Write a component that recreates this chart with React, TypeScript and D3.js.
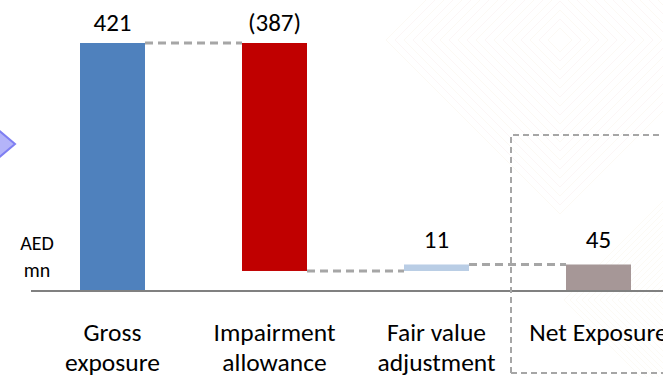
import React from "react";
import * as d3 from "d3";

const categories = ["Gross exposure", "Impairment allowance", "Fair value adjustment", "Net Exposure"];
const categoryLines = [["Gross", "exposure"], ["Impairment", "allowance"], ["Fair value", "adjustment"], ["Net Exposure"]];
const deltas = [421, -387, 11, 45];
const valueLabels = ["421", "(387)", "11", "45"];
const kinds = ["total", "step", "step", "total"];
const colors = ["#4f81bd", "#c00000", "#b9cde5", "#a69797"];

const W = 663;
const H = 377;
const baseY = 291;
const font = "Carlito, Calibri, 'Open Sans', 'Liberation Sans', sans-serif";

export default function App() {
  const x = d3.scaleBand<string>().domain(categories).range([31.5, 679.5]).paddingInner(0.6).paddingOuter(0.3);
  const bw = 65;
  const cx = (i: number) => (x(categories[i]) as number) + x.bandwidth() / 2;
  const y = d3.scaleLinear().domain([0, 421]).range([baseY, 43]);

  // running waterfall extents
  let run = 0;
  const bars = deltas.map((d, i) => {
    let lo: number, hi: number;
    if (kinds[i] === "total") {
      lo = 0;
      hi = d;
      run = d;
    } else {
      const next = run + d;
      lo = Math.min(run, next);
      hi = Math.max(run, next);
      run = next;
    }
    return { lo, hi, end: run, i };
  });

  const connectors = bars.slice(0, -1).map((b, i) => ({
    x1: cx(i) + bw / 2,
    x2: cx(i + 1) - bw / 2,
    yv: b.end,
  }));

  // faint concentric diamonds in the background
  const rings = d3.range(4, 60, 3);

  return (
    <svg width={W} height={H} style={{ position: "absolute", left: 0, top: 0, background: "#fff" }}>
      <g opacity={0.18}>
        {rings.map((r) => (
          <path
            key={"a" + r}
            d={`M${560 - r * 3},${40} L${560},${40 - r * 3} L${560 + r * 3},${40} L${560},${40 + r * 3} Z`}
            fill="none"
            stroke={r % 2 ? "#efcfcf" : "#f2e0c8"}
            strokeWidth={1}
          />
        ))}
        {rings.map((r) => (
          <path
            key={"b" + r}
            d={`M${680 - r * 2},${300} L${680},${300 - r * 2} L${680 + r * 2},${300} L${680},${300 + r * 2} Z`}
            fill="none"
            stroke="#f2e4cc"
            strokeWidth={1}
          />
        ))}
      </g>

      {/* pointer chevron on the left edge */}
      <path d="M-4,128 L15,144 L-4,160 Z" fill="#b4b4f9" stroke="#7f7ff2" strokeWidth={2} />

      {bars.map((b) => (
        <rect
          key={b.i}
          x={cx(b.i) - bw / 2}
          y={y(b.hi)}
          width={bw}
          height={y(b.lo) - y(b.hi)}
          fill={colors[b.i]}
        />
      ))}

      {connectors.map((c, i) => (
        <line
          key={i}
          x1={c.x1}
          x2={c.x2}
          y1={y(c.yv)}
          y2={y(c.yv)}
          stroke="#a6a6a6"
          strokeWidth={3}
          strokeDasharray="8,5"
        />
      ))}

      <line x1={31} x2={W} y1={baseY} y2={baseY} stroke="#808080" strokeWidth={2} />

      <path d={`M511,373 L511,135 L${W + 5},135`} fill="none" stroke="#a6a6a6" strokeWidth={2} strokeDasharray="6,4" />
      <line x1={511} x2={W} y1={373} y2={373} stroke="#a6a6a6" strokeWidth={2} strokeDasharray="6,4" />

      {bars.map((b) => (
        <text
          key={"v" + b.i}
          x={cx(b.i)}
          y={(b.i < 2 ? y(421) - 12 : y(45) - 16)}
          textAnchor="middle"
          fontFamily={font}
          fontSize={25}
          fill="#000"
        >
          {valueLabels[b.i]}
        </text>
      ))}

      {categoryLines.map((lines, i) =>
        lines.map((ln, j) => (
          <text
            key={i + "-" + j}
            x={cx(i)}
            y={341 + j * 30}
            textAnchor="middle"
            fontFamily={font}
            fontSize={25.5}
            fill="#000"
          >
            {ln}
          </text>
        ))
      )}

      <text x={37} y={250} textAnchor="middle" fontFamily={font} fontSize={20} fill="#000">AED</text>
      <text x={37} y={277} textAnchor="middle" fontFamily={font} fontSize={20} fill="#000">mn</text>
    </svg>
  );
}
